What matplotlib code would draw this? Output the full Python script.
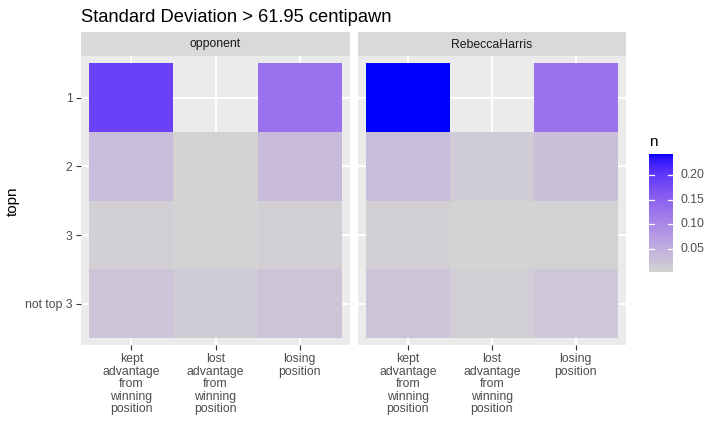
import numpy as np
import matplotlib
matplotlib.use("Agg")
import matplotlib.pyplot as plt
from matplotlib.colors import ListedColormap, Normalize

plt.rcParams['font.family'] = ['Liberation Sans', 'DejaVu Sans']

# ---------------- data ----------------
title = "Standard Deviation > 61.95 centipawn"
facets = ["opponent", "RebeccaHarris"]
categories = ["kept\nadvantage\nfrom\nwinning\nposition",
              "lost\nadvantage\nfrom\nwinning\nposition",
              "losing\nposition"]
topn_levels = ["1", "2", "3", "not top 3"]

# rows = topn levels, columns = categories (NaN = no tile)
opponent_n = [[0.190, np.nan, 0.130],
              [0.033, 0.006, 0.035],
              [0.008, 0.004, 0.009],
              [0.022, 0.013, 0.022]]
rebecca_n = [[0.2426, np.nan, 0.128],
             [0.033, 0.013, 0.031],
             [0.008, 0.004, 0.006],
             [0.022, 0.011, 0.019]]
legend_ticks = [0.05, 0.10, 0.15, 0.20]

# ---------------- Lab gradient (lightgray -> blue) ----------------
def srgb_to_lin(c):
    c = np.asarray(c, float)
    return np.where(c <= 0.04045, c / 12.92, ((c + 0.055) / 1.055) ** 2.4)

def lin_to_srgb(c):
    c = np.clip(c, 0, 1)
    return np.where(c <= 0.0031308, 12.92 * c, 1.055 * c ** (1 / 2.4) - 0.055)

M = np.array([[0.4124, 0.3576, 0.1805],
              [0.2126, 0.7152, 0.0722],
              [0.0193, 0.1192, 0.9505]])
WHITE = np.array([0.95047, 1.0, 1.08883])

def f(t):
    d = 6 / 29
    return np.where(t > d ** 3, np.cbrt(t), t / (3 * d * d) + 4 / 29)

def finv(t):
    d = 6 / 29
    return np.where(t > d, t ** 3, 3 * d * d * (t - 4 / 29))

def rgb_to_lab(rgb):
    xyz = M @ srgb_to_lin(rgb) / WHITE
    fx, fy, fz = f(xyz)
    return np.array([116 * fy - 16, 500 * (fx - fy), 200 * (fy - fz)])

def lab_to_rgb(lab):
    L, a, b = lab
    fy = (L + 16) / 116
    fx = fy + a / 500
    fz = fy - b / 200
    xyz = np.array([finv(fx), finv(fy), finv(fz)]) * WHITE
    lin = np.linalg.solve(M, xyz)
    return lin_to_srgb(lin)

low = rgb_to_lab(np.array([211, 211, 211]) / 255)
high = rgb_to_lab(np.array([0, 0, 255]) / 255)
cols = [lab_to_rgb(low + t * (high - low)) for t in np.linspace(0, 1, 256)]
cmap = ListedColormap(np.clip(np.array(cols), 0, 1))

allv = np.array([opponent_n, rebecca_n], float)
vmin, vmax = np.nanmin(allv), np.nanmax(allv)
norm = Normalize(vmin, vmax)

# ---------------- figure ----------------
W, H = 720, 444
fig = plt.figure(figsize=(W / 100, H / 100), dpi=100)

def px_axes(x0, y0, x1, y1):
    return fig.add_axes([x0 / W, 1 - y1 / H, (x1 - x0) / W, (y1 - y0) / H])

panels = [(81, 350), (357.5, 626)]
ptop, pbot = 56.5, 345
tick_col = "#333333"
lab_col = "#4D4D4D"

for k, (name, data) in enumerate(zip(facets, [opponent_n, rebecca_n])):
    x0, x1 = panels[k]
    ax = px_axes(x0, ptop, x1, pbot)
    ax.set_facecolor("#EBEBEB")
    arr = np.ma.masked_invalid(np.array(data, float))
    xe = np.arange(len(categories) + 1) + 0.5
    ye = np.arange(len(topn_levels) + 1) + 0.5
    ax.set_axisbelow(True)
    ax.grid(True, color="white", linewidth=1.4)
    ax.pcolormesh(xe, ye, arr, cmap=cmap, norm=norm, zorder=2,
                  edgecolor="none", antialiased=False)
    ax.set_xlim(0.4, len(categories) + 0.6)
    ax.set_ylim(len(topn_levels) + 0.6, 0.4)
    ax.set_xticks(np.arange(1, len(categories) + 1))
    ax.set_yticks(np.arange(1, len(topn_levels) + 1))
    ax.set_xticklabels(categories, fontsize=8.8, color=lab_col,
                       linespacing=1.05, va="top")
    ax.tick_params(axis="both", color=tick_col, width=0.8, length=3.8, pad=2.2)
    if k == 0:
        ax.set_yticklabels(topn_levels, fontsize=8.8, color=lab_col)
        ax.set_ylabel("topn", fontsize=11, color="black", labelpad=4)
    else:
        ax.set_yticklabels([])
        ax.tick_params(axis="y", which="both", length=0, width=0)
    for s in ax.spines.values():
        s.set_visible(False)

    # strip
    sax = px_axes(x0, 32.5, x1, ptop)
    sax.set_facecolor("#D9D9D9")
    sax.set_xticks([]); sax.set_yticks([])
    for s in sax.spines.values():
        s.set_visible(False)
    sax.text(0.5, 0.5, name, ha="center", va="center", fontsize=8.8,
             color="#1A1A1A", transform=sax.transAxes)

fig.text(81 / W, 1 - 18 / H, title, fontsize=13.2, ha="left", va="center",
         color="black")

# colorbar
cax = px_axes(649, 154, 672.5, 271.7)
grad = np.linspace(vmin, vmax, 300).reshape(-1, 1)
cax.imshow(grad, aspect="auto", cmap=cmap, norm=norm, origin="lower",
           extent=[0, 1, vmin, vmax])
cax.set_xlim(0, 1)
cax.set_ylim(vmin, vmax)
cax.set_xticks([]); cax.set_yticks([])
for s in cax.spines.values():
    s.set_visible(False)
for t in legend_ticks:
    cax.plot([0, 0.2], [t, t], color="white", lw=0.9)
    cax.plot([0.8, 1], [t, t], color="white", lw=0.9)
    cax.text(1.33, t, f"{t:.2f}", fontsize=8.8, color=lab_col, ha="left",
             va="center", transform=cax.get_yaxis_transform())
fig.text(649 / W, 1 - 142 / H, "n", fontsize=11, ha="left", va="center")

fig.savefig("out.png", dpi=100)
